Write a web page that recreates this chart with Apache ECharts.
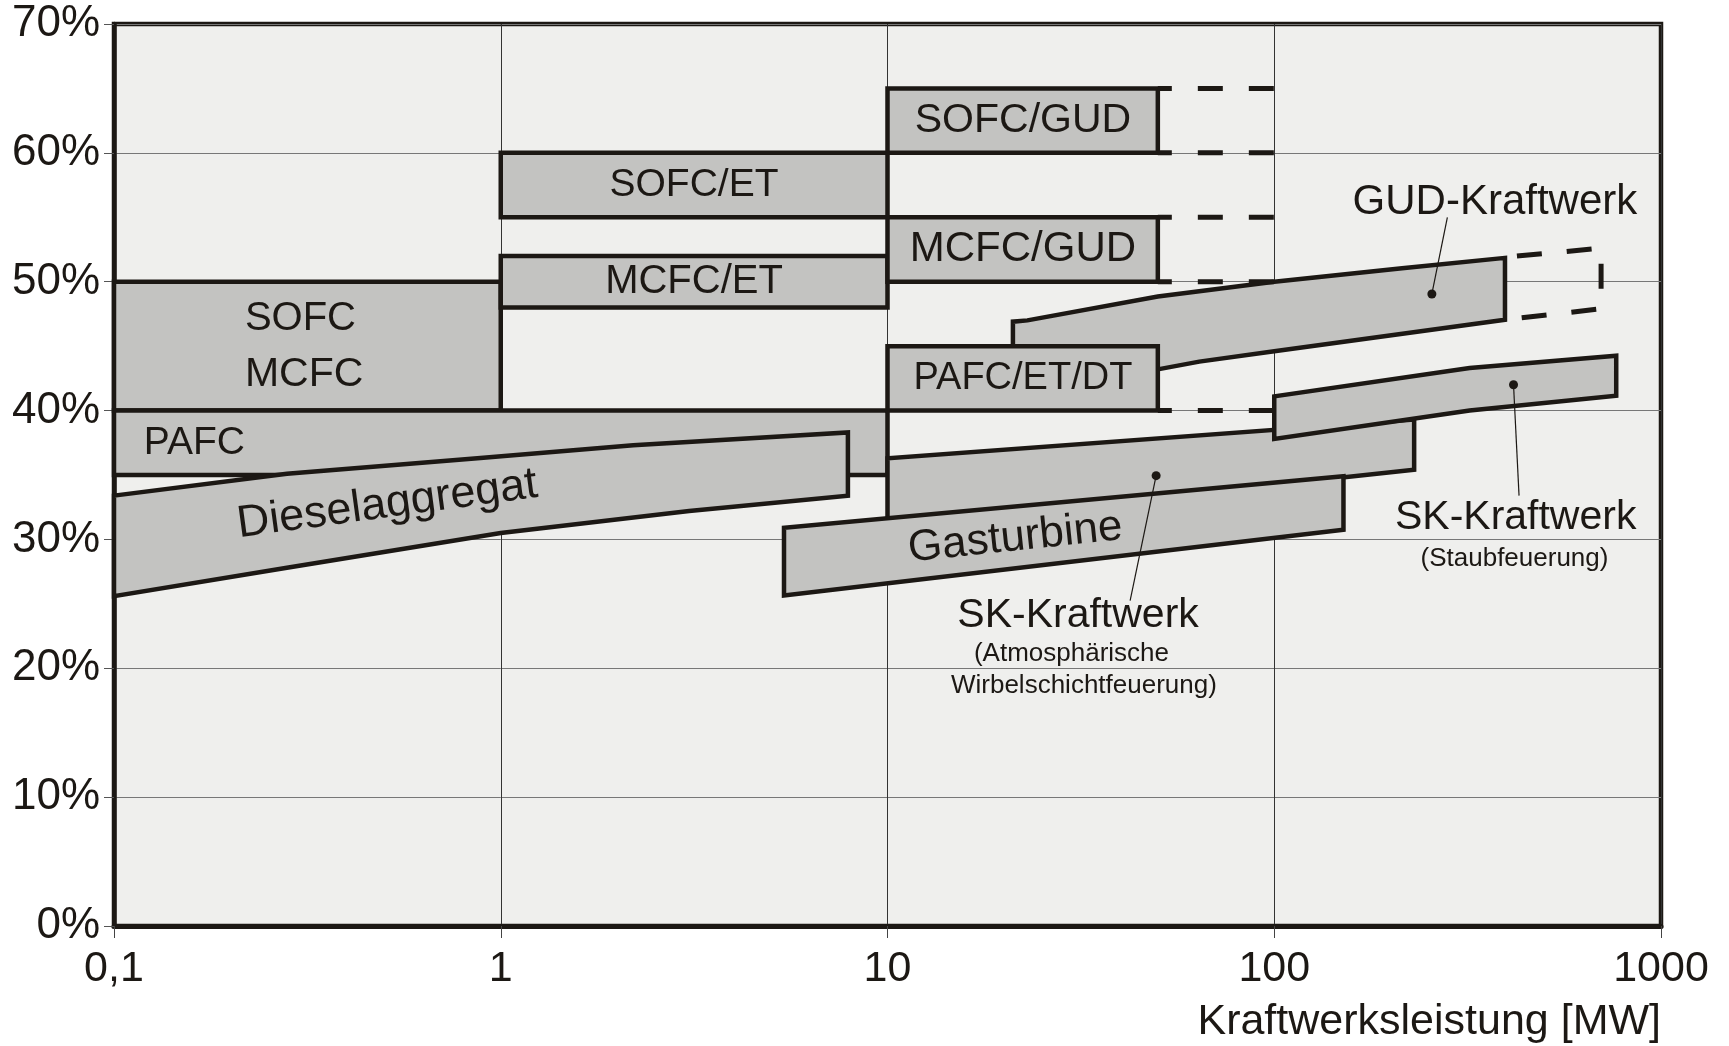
<!DOCTYPE html>
<html><head><meta charset="utf-8">
<script src="https://cdn.jsdelivr.net/npm/echarts@6/dist/echarts.min.js"></script>
<style>html,body{margin:0;padding:0;background:#fff}#c{width:1729px;height:1046px}</style>
</head><body><div id="c"></div>
<script>
// ---- tick labels ----
const xTickLabels = ['0,1', '1', '10', '100', '1000'];
const yTickLabels = ['0%', '10%', '20%', '30%', '40%', '50%', '60%', '70%'];
const xAxisName = 'Kraftwerksleistung [MW]';

// ---- shapes: [power MW, efficiency %] vertices ----
const sofcMcfc = [[0.1, 40], [1, 40], [1, 50], [0.1, 50]];
const pafc = [[0.1, 35], [10, 35], [10, 40], [0.1, 40]];
const sofcEt = [[1, 55], [10, 55], [10, 60], [1, 60]];
const mcfcEt = [[1, 48], [10, 48], [10, 52], [1, 52]];
const sofcGud = [[10, 60], [50, 60], [50, 65], [10, 65]];
const mcfcGud = [[10, 50], [50, 50], [50, 55], [10, 55]];
const pafcEtDt = [[10, 40], [50, 40], [50, 45], [10, 45]];
const gudKw = [[21.1, 42.5], [21.1, 46.9], [23, 47.0], [50, 48.85], [100, 50.0], [214, 51.05], [395, 51.85],
               [395, 47.05], [100, 44.6], [64, 43.8], [50, 43.2]];
const gudKwDashed = [[395, 51.9], [700, 52.6], [700, 47.9], [395, 47.05]];
const skAtmos = [[10, 31.0], [10, 36.3], [230, 39.3], [230, 35.4]];
const skStaub = [[100, 37.8], [100, 41.1], [320, 43.3], [766, 44.25], [766, 41.15], [320, 40.0]];
const gasturbine = [[5.4, 25.65], [5.4, 30.9], [151, 34.9], [151, 30.75]];
const diesel = [[0.1, 33.4], [0.28, 35.1], [0.87, 36.3], [2.2, 37.3], [7.9, 38.3],
                [7.9, 33.4], [3.07, 32.2], [1, 30.5], [0.28, 27.8], [0.1, 25.6]];

// dashed extensions of the fuel-cell hybrid boxes
const dashFrom = 50, dashTo = 100;
const dashLevels = [65, 60, 55, 50, 40];

// leader lines (first point carries the dot)
const gudLeader = [[255.6, 49.05], [280.3, 55.0]];
const skAtmosLeader = [[49.5, 34.95], [42.4, 25.25]];
const skStaubLeader = [[415.6, 42.0], [429.5, 33.4]];

// labels: text, x, y, fontSize, rotation(deg), align
const labels = [
  ['SOFC/GUD', 22.4, 62.5, 41, 0, 'center'],
  ['SOFC/ET', 3.16, 57.5, 39, 0, 'center'],
  ['MCFC/GUD', 22.4, 52.5, 42, 0, 'center'],
  ['MCFC/ET', 3.16, 50.0, 40, 0, 'center'],
  ['PAFC/ET/DT', 22.4, 42.5, 38, 0, 'center'],
  ['SOFC', 0.218, 47.1, 40, 0, 'left'],
  ['MCFC', 0.218, 42.8, 41, 0, 'left'],
  ['PAFC', 0.1194, 37.5, 39, 0, 'left'],
  ['Dieselaggregat', 0.509, 32.7, 45, 7.7, 'center'],
  ['Gasturbine', 21.4, 30.1, 44, 6, 'center'],
  ['GUD-Kraftwerk', 372, 56.15, 42, 0, 'center'],
  ['SK-Kraftwerk', 31.1, 24.1, 41, 0, 'center'],
  ['(Atmosphärische', 29.9, 21.15, 26, 0, 'center'],
  ['Wirbelschichtfeuerung)', 32.2, 18.6, 26, 0, 'center'],
  ['SK-Kraftwerk', 421, 31.7, 41, 0, 'center'],
  ['(Staubfeuerung)', 418, 28.5, 26, 0, 'center']
];

const FONT = "'Liberation Sans', Arial, sans-serif";
const FILL = '#c3c3c1';
const INK = '#1c1814';

function polySeries(pts, z) {
  return {
    type: 'custom', coordinateSystem: 'cartesian2d', data: pts, z: z, silent: true,
    encode: { x: 0, y: 1 },
    renderItem: function (params, api) {
      if (params.dataIndex !== 0) return null;
      const points = pts.map(p => api.coord(p));
      return { type: 'polygon', shape: { points: points },
        style: { fill: FILL, stroke: INK, lineWidth: 4.5, lineJoin: 'miter' } };
    }
  };
}

function leaderSeries(pts, z) {
  return {
    type: 'custom', coordinateSystem: 'cartesian2d', data: pts, z: z, silent: true,
    encode: { x: 0, y: 1 },
    renderItem: function (params, api) {
      if (params.dataIndex !== 0) return null;
      const a = api.coord(pts[0]), b = api.coord(pts[1]);
      return { type: 'group', children: [
        { type: 'line', shape: { x1: a[0], y1: a[1], x2: b[0], y2: b[1] }, style: { stroke: INK, lineWidth: 1.2 } },
        { type: 'circle', shape: { cx: a[0], cy: a[1], r: 4.5 }, style: { fill: INK } }
      ] };
    }
  };
}

const series = [
  polySeries(sofcMcfc, 2),
  polySeries(pafc, 2),
  polySeries(sofcEt, 2),
  polySeries(mcfcEt, 2),
  polySeries(sofcGud, 2),
  polySeries(mcfcGud, 2),
  polySeries(gudKw, 3),
  {
    type: 'custom', coordinateSystem: 'cartesian2d', z: 4, silent: true,
    data: dashLevels.map(l => [dashFrom, l]), encode: { x: 0, y: 1 },
    renderItem: function (params, api) {
      const l = dashLevels[params.dataIndex];
      const a = api.coord([dashFrom, l]), b = api.coord([dashTo, l]);
      return { type: 'line', shape: { x1: a[0], y1: a[1], x2: b[0], y2: b[1] },
        style: { stroke: INK, lineWidth: 5, lineDash: [25, 26], lineDashOffset: 11 } };
    }
  },
  {
    type: 'custom', coordinateSystem: 'cartesian2d', z: 4, silent: true,
    data: gudKwDashed, encode: { x: 0, y: 1 },
    renderItem: function (params, api) {
      if (params.dataIndex !== 0) return null;
      return { type: 'polyline', shape: { points: gudKwDashed.map(p => api.coord(p)) },
        style: { fill: 'none', stroke: INK, lineWidth: 5, lineDash: [25, 25], lineDashOffset: 38 } };
    }
  },
  polySeries(pafcEtDt, 5),
  polySeries(skAtmos, 5),
  polySeries(skStaub, 6),
  polySeries(gasturbine, 6),
  polySeries(diesel, 6),
  leaderSeries(gudLeader, 8),
  leaderSeries(skAtmosLeader, 8),
  leaderSeries(skStaubLeader, 8),
  {
    type: 'custom', coordinateSystem: 'cartesian2d', z: 9, silent: true,
    data: labels.map(l => [l[1], l[2]]), encode: { x: 0, y: 1 },
    renderItem: function (params, api) {
      const l = labels[params.dataIndex];
      const p = api.coord([l[1], l[2]]);
      return { type: 'text', x: p[0], y: p[1], rotation: l[4] * Math.PI / 180,
        style: { text: l[0], fontSize: l[3], fontFamily: FONT, fill: INK, align: l[5], verticalAlign: 'middle' } };
    }
  }
];

const chart = echarts.init(document.getElementById('c'), null, { renderer: 'canvas' });
chart.setOption({
  animation: false,
  backgroundColor: '#ffffff',
  grid: { left: 114, right: 68, top: 24, bottom: 120, show: true, backgroundColor: '#efefed',
          borderColor: INK, borderWidth: 4.5, containLabel: false, outerBoundsMode: 'none' },
  xAxis: {
    type: 'log', logBase: 10, min: 0.1, max: 1000,
    axisLine: { show: true, onZero: false, lineStyle: { color: INK, width: 5 } },
    axisTick: { show: true, length: 12, lineStyle: { color: '#444', width: 1 } },
    axisLabel: { formatter: v => xTickLabels[Math.round(Math.log10(v)) + 1], fontSize: 43,
                 fontFamily: FONT, color: INK, margin: 22 },
    splitLine: { show: true, lineStyle: { color: '#333', width: 1 } },
    minorTick: { show: false }, minorSplitLine: { show: false }
  },
  yAxis: {
    type: 'value', min: 0, max: 70, interval: 10,
    axisLine: { show: true, lineStyle: { color: INK, width: 4.5 } },
    axisTick: { show: true, length: 10, lineStyle: { color: '#555', width: 1 } },
    axisLabel: { formatter: v => yTickLabels[Math.round(v / 10)], fontSize: 44, fontFamily: FONT,
                 color: INK, margin: 14, padding: [16, 0, 0, 0] },
    splitLine: { show: true, lineStyle: { color: '#777', width: 1 } }
  },
  graphic: [{
    type: 'text', right: 68, top: 1001, silent: true,
    style: { text: xAxisName, fontSize: 43, fontFamily: FONT, fill: INK }
  }],
  series: series
});
</script>
</body></html>
